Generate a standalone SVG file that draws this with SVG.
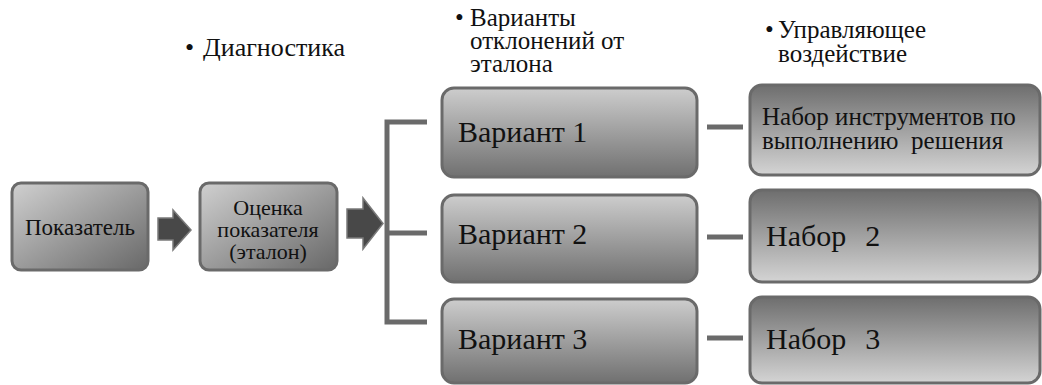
<svg xmlns="http://www.w3.org/2000/svg" width="1042" height="385" viewBox="0 0 1042 385">
<defs>
<linearGradient id="gDiag" x1="0" y1="0" x2="1" y2="1">
<stop offset="0" stop-color="#d0d0d0"/>
<stop offset="1" stop-color="#686868"/>
</linearGradient>
<linearGradient id="gDown" x1="0" y1="0" x2="0" y2="1">
<stop offset="0" stop-color="#cdcdcd"/>
<stop offset="1" stop-color="#707070"/>
</linearGradient>
<linearGradient id="gUp" x1="0" y1="0" x2="0" y2="1">
<stop offset="0" stop-color="#6e6e6e"/>
<stop offset="1" stop-color="#d4d4d4"/>
</linearGradient>
</defs>
<style>
.box{stroke:#6a6a6a;stroke-width:3}
.d{fill:url(#gDiag)}
.dn{fill:url(#gDown)}
.up{fill:url(#gUp)}
.arrow{fill:#484848;stroke:#7a7a7a;stroke-width:1.5}
.conn{fill:none;stroke:#6a6a6a;stroke-width:5}
.t{font-family:"Liberation Serif","Tinos","Times New Roman","DejaVu Serif",serif;fill:#111}
</style>
<g id="headers">
<text class="t" x="185" y="56" font-size="26">•</text>
<text class="t" x="203" y="56" font-size="26">Диагностика</text>
<text class="t" x="455" y="26" font-size="25">•</text>
<text class="t" x="470" y="26" font-size="25">Варианты</text>
<text class="t" x="470" y="49" font-size="25">отклонений от</text>
<text class="t" x="470" y="72" font-size="25">эталона</text>
<text class="t" x="765" y="38" font-size="25">•</text>
<text class="t" x="778" y="38" font-size="25">Управляющее</text>
<text class="t" x="778" y="62" font-size="25">воздействие</text>
</g>
<g id="connectors">
<path class="arrow" d="M158,218 L173,218 L173,210 L191,230 L173,250 L173,240 L158,240 Z"/>
<path class="arrow" d="M347,209 L363,209 L363,198 L383,223.5 L363,249 L363,238 L347,238 Z"/>
<path class="conn" d="M427,122 H387 V322 H427 M387,233 H427"/>
<path class="conn" d="M707,127 H743 M707,237 H743 M707,338 H743"/>
</g>
<g id="node-pokazatel">
<rect class="box d" x="12" y="183" width="136" height="87" rx="9"/>
<text class="t" x="80" y="235" font-size="23" text-anchor="middle">Показатель</text>
</g>
<g id="node-ocenka">
<rect class="box d" x="200" y="183" width="137" height="87" rx="9"/>
<text class="t" x="268" y="215" font-size="22" text-anchor="middle">Оценка</text>
<text class="t" x="268" y="237" font-size="22" text-anchor="middle">показателя</text>
<text class="t" x="268" y="259" font-size="22" text-anchor="middle">(эталон)</text>
</g>
<g id="node-variant1">
<rect class="box dn" x="442" y="88" width="255" height="89" rx="12"/>
<text class="t" x="458" y="142" font-size="30">Вариант 1</text>
</g>
<g id="node-variant2">
<rect class="box dn" x="442" y="195" width="255" height="87" rx="12"/>
<text class="t" x="458" y="244" font-size="30">Вариант 2</text>
</g>
<g id="node-variant3">
<rect class="box dn" x="442" y="299" width="255" height="84" rx="12"/>
<text class="t" x="458" y="349" font-size="30">Вариант 3</text>
</g>
<g id="node-nabor1">
<rect class="box up" x="750" y="85" width="290" height="90" rx="12"/>
<text class="t" x="762" y="125" font-size="25">Набор инструментов по</text>
<text class="t" x="762" y="149" font-size="25" xml:space="preserve">выполнению  решения</text>
</g>
<g id="node-nabor2">
<rect class="box up" x="750" y="190" width="290" height="92" rx="12"/>
<text class="t" x="766" y="246" font-size="30" word-spacing="2" xml:space="preserve">Набор  2</text>
</g>
<g id="node-nabor3">
<rect class="box up" x="750" y="297" width="290" height="86" rx="12"/>
<text class="t" x="766" y="349" font-size="30" word-spacing="2" xml:space="preserve">Набор  3</text>
</g>
</svg>
